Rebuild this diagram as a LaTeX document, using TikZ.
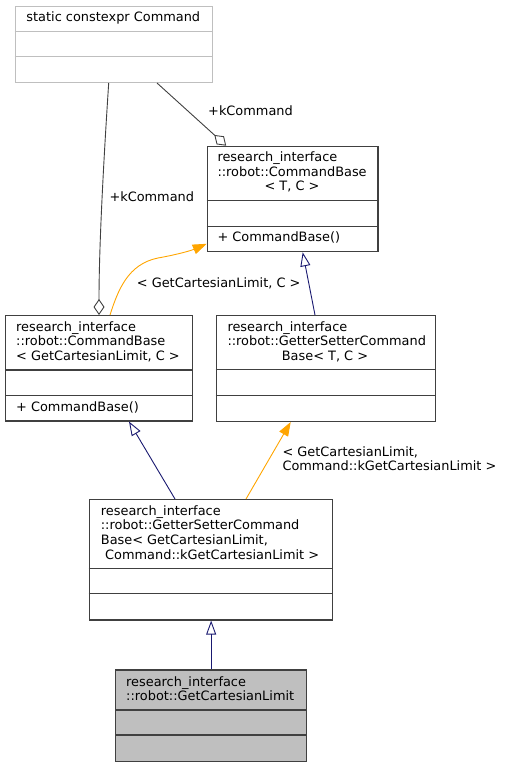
\documentclass[tikz,border=0pt]{standalone}
\usepackage{fontspec}
\setmainfont{DejaVu Sans}
\usetikzlibrary{arrows.meta,calc}
\definecolor{edgegray}{HTML}{404040}
\definecolor{boxgray}{HTML}{BFBFBF}
\definecolor{navyedge}{HTML}{191970}
\definecolor{orangeedge}{HTML}{FFA500}
\tikzset{
  cls/.style={draw=edgegray, line width=1.3pt, inner sep=0pt, anchor=north west},
  lightcls/.style={draw=boxgray, line width=1.3pt, inner sep=0pt, anchor=north west},
  divider/.style={draw=edgegray, line width=1.3pt},
  lightdivider/.style={draw=boxgray, line width=1.3pt},
  txt/.style={inner sep=0pt, font=\fontsize{12.9}{15}\selectfont, anchor=base west},
  ctxt/.style={inner sep=0pt, font=\fontsize{12.9}{15}\selectfont, anchor=base},
  agg/.style={draw=edgegray, line width=0.9pt, -{Diamond[open, length=16pt, width=11pt, line width=0.9pt]}},
  inherit/.style={draw=navyedge, line width=0.9pt, -{Triangle[open, length=14pt, width=10pt, line width=0.9pt]}},
  tmpl/.style={draw=orangeedge, line width=0.9pt, -{Triangle[length=14pt, width=10pt]}}
}
\begin{document}
\begin{tikzpicture}[x=1pt,y=-1pt]
\useasboundingbox (0,0) rectangle (504,767);

% A: static constexpr Command
\node[lightcls, minimum width=197.3pt, minimum height=76pt] (A) at (14.7,5.7) {};
\draw[lightdivider] (14.7,31.3) -- (212,31.3);
\draw[lightdivider] (14.7,56.7) -- (212,56.7);
\node[ctxt] (Atitle) at (113.3,21.4) {static constexpr Command};

% B: CommandBase< T, C >
\node[cls, minimum width=170.6pt, minimum height=105.3pt] (B) at (206.7,145.7) {};
\draw[divider] (206.7,200.7) -- (377.3,200.7);
\draw[divider] (206.7,226.3) -- (377.3,226.3);
\node[txt] (B1) at (217.3,161.6) {research\_interface};
\node[txt] (B2) at (217.3,176.3) {::robot::CommandBase};
\node[ctxt] (B3) at (292,190.8) {< T, C >};
\node[txt] (B4) at (217.3,241.6) {+ CommandBase()};

% C: CommandBase< GetCartesianLimit, C >
\node[cls, minimum width=187pt, minimum height=105.3pt] (C) at (5,315) {};
\draw[divider] (5,370) -- (192,370);
\draw[divider] (5,395.3) -- (192,395.3);
\node[txt] (C1) at (16,331) {research\_interface};
\node[txt] (C2) at (16,345.6) {::robot::CommandBase};
\node[txt] (C3) at (16,360.3) {< GetCartesianLimit, C >};
\node[txt] (C4) at (16,411) {+ CommandBase()};

% D: GetterSetterCommandBase< T, C >
\node[cls, minimum width=219pt, minimum height=105.7pt] (D) at (215.7,315) {};
\draw[divider] (215.7,369.3) -- (434.7,369.3);
\draw[divider] (215.7,395.7) -- (434.7,395.7);
\node[txt] (D1) at (227.3,331) {research\_interface};
\node[txt] (D2) at (227.3,345.6) {::robot::GetterSetterCommand};
\node[ctxt] (D3) at (325,360.6) {Base< T, C >};

% E: GetterSetterCommandBase< GetCartesianLimit, Command::kGetCartesianLimit >
\node[cls, minimum width=243.3pt, minimum height=120.3pt] (E) at (88.7,499) {};
\draw[divider] (88.7,568.7) -- (332,568.7);
\draw[divider] (88.7,593.7) -- (332,593.7);
\node[txt] (E1) at (100.7,515) {research\_interface};
\node[txt] (E2) at (100.7,529.8) {::robot::GetterSetterCommand};
\node[txt] (E3) at (100.7,544.4) {Base< GetCartesianLimit,};
\node[txt] (E4) at (105,559) {Command::kGetCartesianLimit >};

% F: GetCartesianLimit
\node[cls, fill=boxgray, minimum width=191pt, minimum height=91.4pt] (F) at (115,669.3) {};
\draw[divider] (115,710) -- (306,710);
\draw[divider] (115,735) -- (306,735);
\node[txt] (F1) at (126,686) {research\_interface};
\node[txt] (F2) at (126,700.8) {::robot::GetCartesianLimit};

% edges
\draw[agg] ([xshift=94pt]A.south west) .. controls (103,170) and (99,250) .. ([xshift=94pt]C.north west);
\node[txt] (lab1) at (109.3,202) {+kCommand};

\draw[agg] ([xshift=142.3pt]A.south west) -- ([xshift=19.5pt]B.north west);
\node[txt] (lab2) at (208,116) {+kCommand};

\draw[tmpl] ([xshift=105pt]C.north west) .. controls (118,290) and (128,264) .. (158,258) .. controls (175,255) and (190,251) .. ([yshift=8.5pt]B.south west);
\node[txt] (lab3) at (136.7,287) {< GetCartesianLimit, C >};

\draw[inherit] ([xshift=99.3pt]D.north west) -- ([xshift=96pt]B.south west);
\draw[inherit] ([xshift=86.3pt]E.north west) -- ([xshift=124pt]C.south west);
\draw[tmpl] ([xshift=157.3pt]E.north west) -- ([xshift=75pt]D.south west);
\node[txt] (lab4) at (282.3,456) {< GetCartesianLimit,};
\node[txt] (lab5) at (282.3,470.5) {Command::kGetCartesianLimit >};

\draw[inherit] (F.north) -- (F.north |- E.south);
\end{tikzpicture}
\end{document}
